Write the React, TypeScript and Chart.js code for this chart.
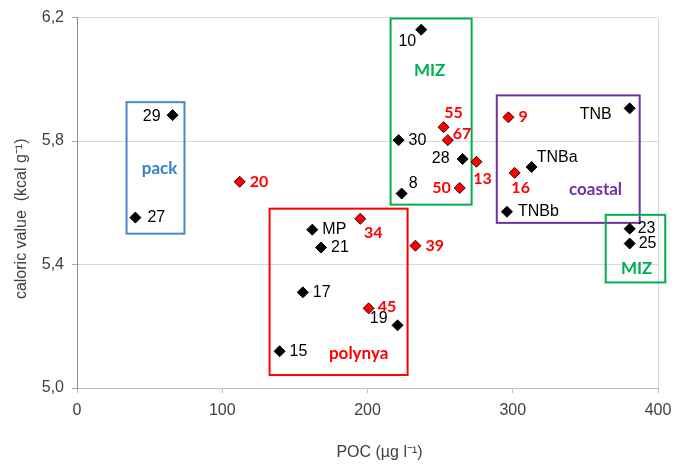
import React, { useEffect, useRef } from "react";
import { Chart, registerables } from "chart.js";

Chart.register(...registerables);

// ---- data ----
const blackNames = ["29", "27", "MP", "21", "17", "15", "19", "10", "30", "28", "8", "TNB", "TNBa", "TNBb", "23", "25"];
const blackPOC = [65.8, 40.2, 162, 168, 155.5, 139.5, 220.7, 237, 221.4, 265.5, 223.5, 380.5, 313, 296, 380.5, 380.5];
const blackCal = [5.884, 5.552, 5.513, 5.455, 5.31, 5.119, 5.203, 6.161, 5.803, 5.742, 5.63, 5.906, 5.716, 5.571, 5.516, 5.468];

const redNames = ["20", "34", "39", "45", "55", "67", "13", "50", "9", "16"];
const redPOC = [112, 195, 233, 200.8, 252.4, 255.3, 275, 263.5, 297, 301.3];
const redCal = [5.668, 5.548, 5.461, 5.258, 5.845, 5.803, 5.733, 5.648, 5.877, 5.697];

// groups (boxes) in data units
const groupNames = ["pack", "polynya", "MIZ", "coastal", "MIZ"];
const groupX0 = [34.1, 132.6, 215.9, 289, 364];
const groupX1 = [74, 227.6, 271.7, 387.4, 405];
const groupY0 = [5.5, 5.042, 5.594, 5.535, 5.342];
const groupY1 = [5.926, 5.581, 6.197, 5.948, 5.561];
const groupLabelX = [56.8, 193.9, 242.8, 357, 385.3];
const groupLabelY = [5.71, 5.113, 6.029, 5.642, 5.387];

const xTicks = [0, 100, 200, 300, 400];
const yTicks = [5.0, 5.4, 5.8, 6.2];

// ---- styles ----
const groupColors = ["#4a86c8", "#ff0000", "#00b050", "#7030a0", "#00b050"];
const groupTextColors = ["#3a7dc9", "#ff0000", "#00b050", "#7030a0", "#00b050"];

type Place = [number, number, CanvasTextAlign];
const blackPlace: Place[] = [
  [-12, 1, "right"], [12, 0, "left"], [10, 0, "left"], [10, 0, "left"], [10, 0, "left"],
  [10, 0, "left"], [-10, -7, "right"], [-5, 12, "right"], [10, 0, "left"], [-13, 0, "right"],
  [7, -10, "left"], [-18, 6, "right"], [5, -9, "left"], [11, 0, "left"], [8, 0, "left"], [9, 0, "left"],
];
const redPlace: Place[] = [
  [10, 0, "left"], [13, 14, "center"], [10, 0, "left"], [9, -2, "left"], [10, -14, "center"],
  [5, -6, "left"], [6, 17, "center"], [-9, 0, "right"], [10, 0, "left"], [6, 15, "center"],
];

const boxPlugin = {
  id: "boxes",
  beforeDatasetsDraw(chart: any) {
    const { ctx, scales } = chart;
    const xs = scales.x;
    const ys = scales.y;
    ctx.save();
    ctx.lineWidth = 2;
    for (let i = 0; i < groupNames.length; i++) {
      const l = xs.getPixelForValue(groupX0[i]);
      const r = xs.getPixelForValue(groupX1[i]);
      const t = ys.getPixelForValue(groupY1[i]);
      const b = ys.getPixelForValue(groupY0[i]);
      ctx.strokeStyle = groupColors[i];
      ctx.strokeRect(l, t, r - l, b - t);
    }
    ctx.font = "bold 17px Lato";
    ctx.textAlign = "center";
    ctx.textBaseline = "middle";
    for (let i = 0; i < groupNames.length; i++) {
      ctx.fillStyle = groupTextColors[i];
      ctx.fillText(groupNames[i], xs.getPixelForValue(groupLabelX[i]), ys.getPixelForValue(groupLabelY[i]));
    }
    ctx.restore();
  },
  afterDatasetsDraw(chart: any) {
    const { ctx } = chart;
    ctx.save();
    ctx.textBaseline = "middle";
    const drawSet = (idx: number, names: string[], place: Place[], font: string, color: string) => {
      const meta = chart.getDatasetMeta(idx);
      meta.data.forEach((pt: any, i: number) => {
        const [dx, dy, al] = place[i];
        ctx.font = font;
        ctx.fillStyle = color;
        ctx.textAlign = al;
        ctx.fillText(names[i], pt.x + dx, pt.y + dy);
      });
    };
    drawSet(0, blackNames, blackPlace, "16px 'Liberation Sans'", "#000000");
    drawSet(1, redNames, redPlace, "bold 16px Lato", "#ff0000");
    ctx.restore();
  },
};

export default function App() {
  const ref = useRef<HTMLCanvasElement | null>(null);
  useEffect(() => {
    if (!ref.current) return;
    const chart = new Chart(ref.current, {
      type: "scatter",
      data: {
        datasets: [
          {
            label: "black",
            data: blackPOC.map((x, i) => ({ x, y: blackCal[i] })),
            pointStyle: "rectRot",
            pointRadius: 5.5,
            backgroundColor: "#000000",
            borderColor: "#000000",
            borderWidth: 1,
          },
          {
            label: "red",
            data: redPOC.map((x, i) => ({ x, y: redCal[i] })),
            pointStyle: "rectRot",
            pointRadius: 5.5,
            backgroundColor: "#ff0000",
            borderColor: "#3a0000",
            borderWidth: 1,
          },
        ],
      },
      options: {
        responsive: false,
        animation: false,
        layout: { padding: { top: 16, right: 30, left: 0, bottom: 0 } },
        plugins: { legend: { display: false }, tooltip: { enabled: false } },
        scales: {
          x: {
            type: "linear",
            min: 0,
            max: 400,
            afterBuildTicks: (s: any) => { s.ticks = xTicks.map((v) => ({ value: v })); },
            afterFit: (s: any) => { s.height = 82; },
            ticks: { font: { family: "'Liberation Sans'", size: 16 }, color: "#404040", padding: 8 },
            grid: {
              color: (c: any) => (c.tick && c.tick.value === 400 ? "#d9d9d9" : "rgba(0,0,0,0)"),
              tickColor: "#bfbfbf",
              tickLength: 5,
            },
            border: { color: "#bfbfbf" },
            title: {
              display: true,
              text: "\u2002\u2002\u2002POC (µg l⁻¹)",
              font: { family: "'Liberation Sans'", size: 16 },
              color: "#404040",
              padding: { top: 0, bottom: 8 },
            },
          },
          y: {
            type: "linear",
            min: 5.0,
            max: 6.2,
            afterBuildTicks: (s: any) => { s.ticks = yTicks.map((v) => ({ value: v })); },
            afterFit: (s: any) => { s.width = 77; },
            ticks: {
              font: { family: "'Liberation Sans'", size: 16 },
              color: "#404040",
              padding: 8,
              callback: (v: any) => Number(v).toFixed(1).replace(".", ","),
            },
            grid: { color: "#d9d9d9", tickColor: "#a6a6a6", tickLength: 5 },
            border: { color: "#8c8c8c" },
            title: {
              display: true,
              text: "caloric value  (kcal g⁻¹)\u2002\u2002\u2002\u2002",
              font: { family: "'Liberation Sans'", size: 16 },
              color: "#404040",
              padding: { top: 12, bottom: 0 },
            },
          },
        },
      },
      plugins: [boxPlugin],
    });
    return () => chart.destroy();
  }, []);
  return (
    <div style={{ position: "absolute", left: 0, top: 0, width: 688, height: 470, background: "#fff" }}>
      <canvas ref={ref} width={688} height={470} />
    </div>
  );
}
